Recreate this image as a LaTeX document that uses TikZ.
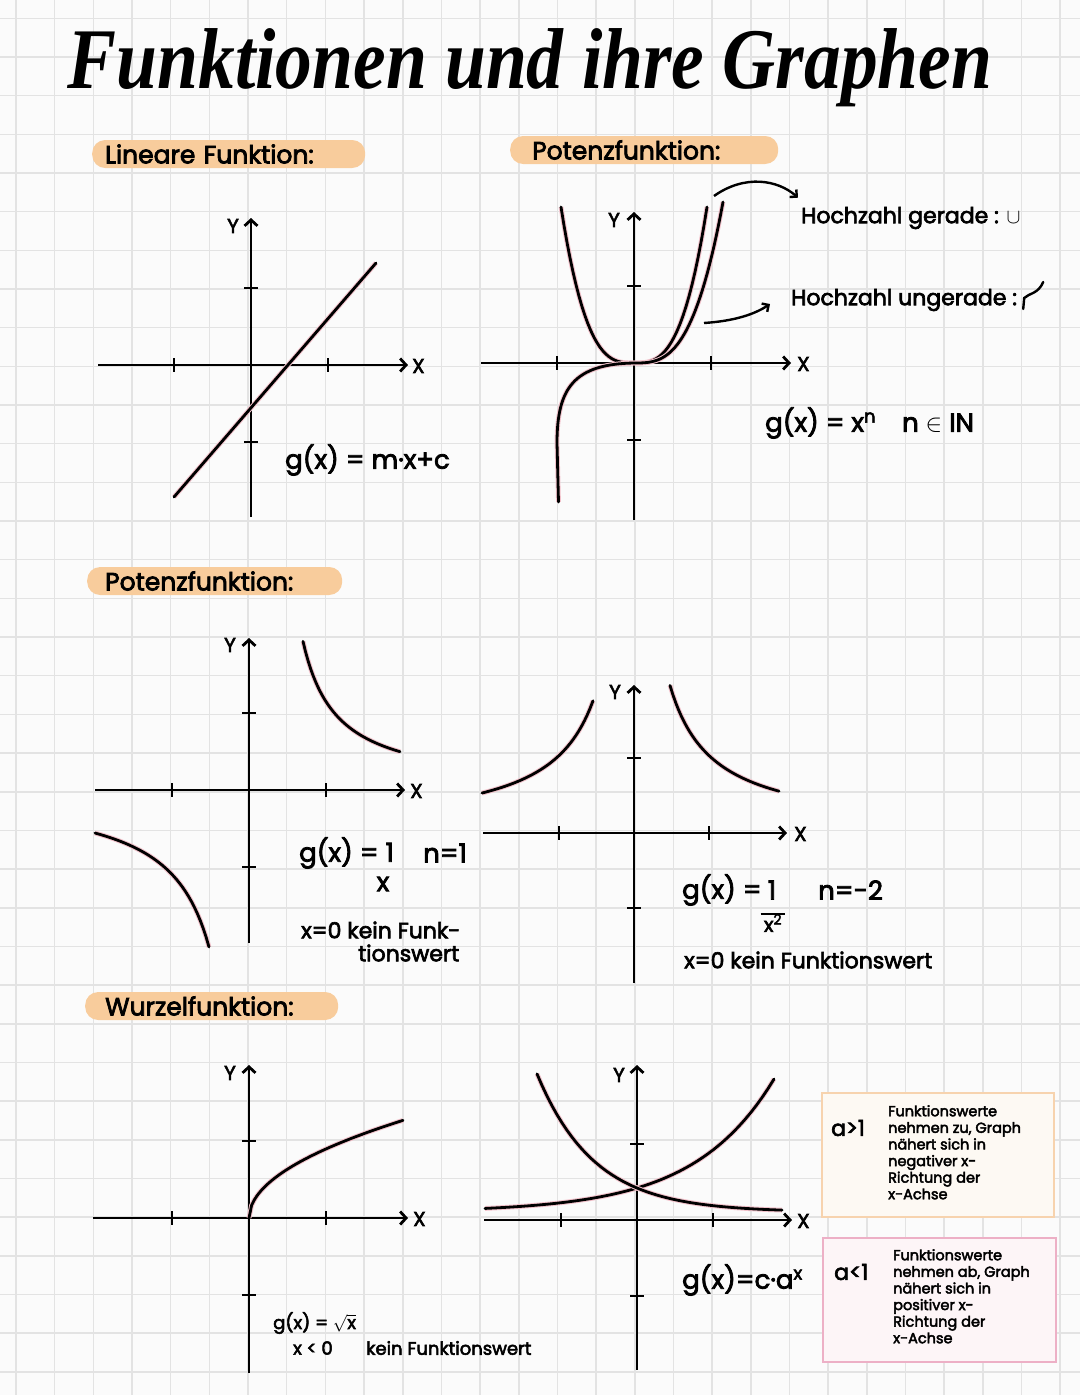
\documentclass[tikz,border=0pt]{standalone}
\usepackage{fontspec}
\setmainfont{Poppins}[FakeBold=3]
\newfontfamily\titlefont{Liberation Serif}
\usetikzlibrary{arrows.meta,positioning}
\definecolor{nPaper}{HTML}{FBFBFB}
\definecolor{nGrid}{HTML}{E3E3E3}
\definecolor{nPeach}{HTML}{F8CC9C}
\definecolor{nRose}{HTML}{F2C2CB}
\definecolor{nOrange}{HTML}{F7D3AE}
\definecolor{nCream}{HTML}{FDF9F3}
\definecolor{nPink}{HTML}{EDB0C6}
\definecolor{nBlush}{HTML}{FDF5F7}
\tikzset{
  axis/.style={line width=2.8pt,-{Straight Barb[length=6pt,width=13pt]}},
  tickmark/.style={line width=2.6pt},
  curve/.style={line width=2.8pt,line cap=round,preaction={draw=nRose,line width=4.8pt}},
  hl/.style={fill=nPeach,rounded corners=13pt,anchor=west,minimum height=28pt,inner ysep=0pt,font=\fontsize{25}{25}\selectfont},
  hand/.style={anchor=west,inner sep=1pt,font=\fontsize{26}{26}\selectfont},
  mid/.style={anchor=west,inner sep=1pt,font=\fontsize{22}{22}\selectfont},
  small/.style={anchor=west,inner sep=1pt,font=\fontsize{18}{18}\selectfont},
  axlabel/.style={inner sep=0pt,font=\fontsize{20}{20}\selectfont},
  note/.style={anchor=north west,inner sep=0pt,align=left,font=\fontsize{14.5}{16.6}\selectfont},
  pointer/.style={line width=2.4pt,-{Straight Barb[length=5pt,width=10pt]}}
}
\begin{document}
\begin{tikzpicture}[x=1pt,y=-1pt]
  \useasboundingbox (0,0) rectangle (1080,1395);
  \fill[nPaper] (0,0) rectangle (1080,1395);
  % ---- Squared paper ----
  \foreach \k in {0,...,27}{
    \draw[nGrid,line width=1.6pt] (16+38.67*\k,0) -- (16+38.67*\k,1395);
  }
  \foreach \k in {0,...,35}{
    \draw[nGrid,line width=1.6pt] (0,18.3+38.67*\k) -- (1080,18.3+38.67*\k);
  }
  % ---- Title ----
  \node[font=\titlefont\bfseries\itshape\fontsize{72}{72}\selectfont] (title) at (530,68) {\scalebox{1.02}[1.2]{Funktionen und ihre Graphen}};
  % ---- Lineare Funktion ----
  \node[hl,text width=247pt,inner xsep=13pt] (linHead) at (92,154) {Lineare Funktion:};
  \begin{scope}[shift={(251,365)}]
    \draw[axis] (-153,0) -- (157,0);
    \draw[axis] (0,152) -- (0,-147);
    \foreach \t in {-77,77}{
      \draw[tickmark] (\t,-7) -- (\t,7);
      \draw[tickmark] (-7,\t) -- (7,\t);
    }
    \node[axlabel,anchor=west] (linX) at (161,1) {X};
    \node[axlabel] (linY) at (-18,-139) {Y};
    \draw[curve] (-77,132) -- (125,-102);
    \node[hand] (linEq) at (33,95) {g(x) = m·x+c};
  \end{scope}
  % ---- Potenzfunktion, n natuerlich ----
  \node[hl,text width=224pt,inner xsep=22pt] (powHead) at (510,150) {Potenzfunktion:};
  \begin{scope}[shift={(634,363)}]
    \draw[axis] (-153,0) -- (157,0);
    \draw[axis] (0,157) -- (0,-151);
    \foreach \t in {-77,77}{
      \draw[tickmark] (\t,-7) -- (\t,7);
      \draw[tickmark] (-7,\t) -- (7,\t);
    }
    \node[axlabel,anchor=west] (powX) at (163,1) {X};
    \node[axlabel] (powY) at (-20,-143) {Y};
    \draw[curve] plot[domain=-73:73,samples=50] (\x,{-pow(abs(\x)/13.56,3)});
    \draw[curve] (-75.5,139) -- (-77,80) .. controls (-77,25) and (-60,1) .. (0,0)
      -- plot[domain=0:89,samples=40] (\x,{-pow(\x/16.36,3)});
    \coordinate (evenTip) at (80,-167);
    \coordinate (oddTip) at (70,-40);
  \end{scope}
  \node[mid] (evenLabel) at (800,218) {Hochzahl gerade : $\cup$};
  \node[mid] (oddLabel) at (790,300) {Hochzahl ungerade :};
  \draw[line width=2.4pt,line cap=round] ([shift={(5,9)}]oddLabel.east) -- ++(1,-11)
    .. controls +(5,-5) and +(-5,12) .. ++(19,-16);
  \draw[pointer] (evenTip) .. controls (745,174) and (778,180) .. ([shift={(-2,-8)}]evenLabel.north west);
  \draw[pointer] (oddTip) .. controls (735,321) and (755,314) .. ([shift={(-20,4)}]oddLabel.west);
  \node[hand] (powEq) at (764,423) {g(x) = x\textsuperscript{n}\quad n $\in$ IN};
  % ---- Potenzfunktion, n negativ ----
  \node[hl,text width=219pt,inner xsep=18pt] (negHead) at (87,581) {Potenzfunktion:};
  \begin{scope}[shift={(249,790)}]
    \draw[axis] (-154,0) -- (156,0);
    \draw[axis] (0,153) -- (0,-152);
    \foreach \t in {-77,77}{
      \draw[tickmark] (\t,-7) -- (\t,7);
      \draw[tickmark] (-7,\t) -- (7,\t);
    }
    \node[axlabel,anchor=west] (recipX) at (161,1) {X};
    \node[axlabel] (recipY) at (-19,-145) {Y};
    \draw[curve] plot[domain=54:151,samples=40] (\x,{-5010/(\x-20.3)});
    \draw[curve] plot[domain=-154:-40,samples=40] (\x,{6751/(3-\x)});
  \end{scope}
  \node[hand] (recipEq) at (298,853) {g(x) = 1};
  \node[hand,anchor=center] (recipDen) at (383,884) {x};
  \node[hand] (recipN) at (422,853) {n=1};
  \node[mid] (recipNote) at (300,930) {x=0 kein Funk-};
  \node[mid] (recipNoteB) at (357,953) {tionswert};
  \begin{scope}[shift={(634,833)}]
    \draw[axis] (-151,0) -- (153,0);
    \draw[axis] (0,150) -- (0,-148);
    \foreach \t in {-75,75}{
      \draw[tickmark] (\t,-7) -- (\t,7);
      \draw[tickmark] (-7,\t) -- (7,\t);
    }
    \node[axlabel,anchor=west] (quadX) at (160,1) {X};
    \node[axlabel] (quadY) at (-19,-141) {Y};
    \draw[curve] plot[domain=-152:-41,samples=40] (\x,{-6360/(7.1-\x)});
    \draw[curve] plot[domain=36:145,samples=40] (\x,{-6360/(\x+7.1)});
  \end{scope}
  \node[hand] (quadEq) at (681,890) {g(x) =};
  \node[hand,anchor=center] (quadNum) at (772,890) {1};
  \node[axlabel] (quadDen) at (773,923) {x\textsuperscript{2}};
  \draw[line width=2.4pt] ([xshift=-3]quadDen.north west) -- ([xshift=3]quadDen.north east);
  \node[hand] (quadN) at (817,890) {n=-2};
  \node[mid] (quadNote) at (683,960) {x=0 kein Funktionswert};
  % ---- Wurzelfunktion ----
  \node[hl,text width=213pt,inner xsep=20pt] (rootHead) at (85,1006) {Wurzelfunktion:};
  \begin{scope}[shift={(249,1218)}]
    \draw[axis] (-156,0) -- (159,0);
    \draw[axis] (0,155) -- (0,-153);
    \foreach \t in {-77,77}{
      \draw[tickmark] (\t,-7) -- (\t,7);
      \draw[tickmark] (-7,\t) -- (7,\t);
    }
    \node[axlabel,anchor=west] (rootX) at (164,1) {X};
    \node[axlabel] (rootY) at (-19,-145) {Y};
    \draw[curve] plot[domain=0:154,samples=60] (\x,{-7.87*sqrt(\x)});
  \end{scope}
  \node[small] (rootEq) at (272,1323) {g(x) = $\sqrt{\mathrm{x}}$};
  \node[small] (rootCond) at (292,1348) {x < 0};
  \node[small] (rootNote) at (365,1348) {kein Funktionswert};
  % ---- Exponentialfunktion ----
  \begin{scope}[shift={(637,1220)}]
    \draw[axis] (-153,0) -- (155,0);
    \draw[axis] (0,150) -- (0,-155);
    \foreach \t in {-76,76}{
      \draw[tickmark] (\t,-7) -- (\t,7);
      \draw[tickmark] (-7,\t) -- (7,\t);
    }
    \node[axlabel,anchor=west] (expX) at (160,1) {X};
    \node[axlabel] (expY) at (-18,-145) {Y};
    \draw[curve] plot[domain=-152:137,samples=50] (\x,{-(8+24*exp(0.0125*\x))});
    \draw[curve] plot[domain=-100:145,samples=50] (\x,{-(8+24*exp(-0.0175*\x))});
  \end{scope}
  \node[hand] (expEq) at (681,1280) {g(x)=c·a\textsuperscript{x}};
  \draw[nOrange,fill=nCream,line width=2.5pt] (822,1093) rectangle (1054,1217);
  \node[mid] (growCase) at (830,1128) {a>1};
  \node[note] (growNote) at (888,1105) {Funktionswerte\\nehmen zu, Graph\\nähert sich in\\negativer x-\\Richtung der\\x-Achse};
  \draw[nPink,fill=nBlush,line width=2.5pt] (823,1238) rectangle (1056,1362);
  \node[mid] (decayCase) at (833,1272) {a<1};
  \node[note] (decayNote) at (893,1249) {Funktionswerte\\nehmen ab, Graph\\nähert sich in\\positiver x-\\Richtung der\\x-Achse};
\end{tikzpicture}
\end{document}
